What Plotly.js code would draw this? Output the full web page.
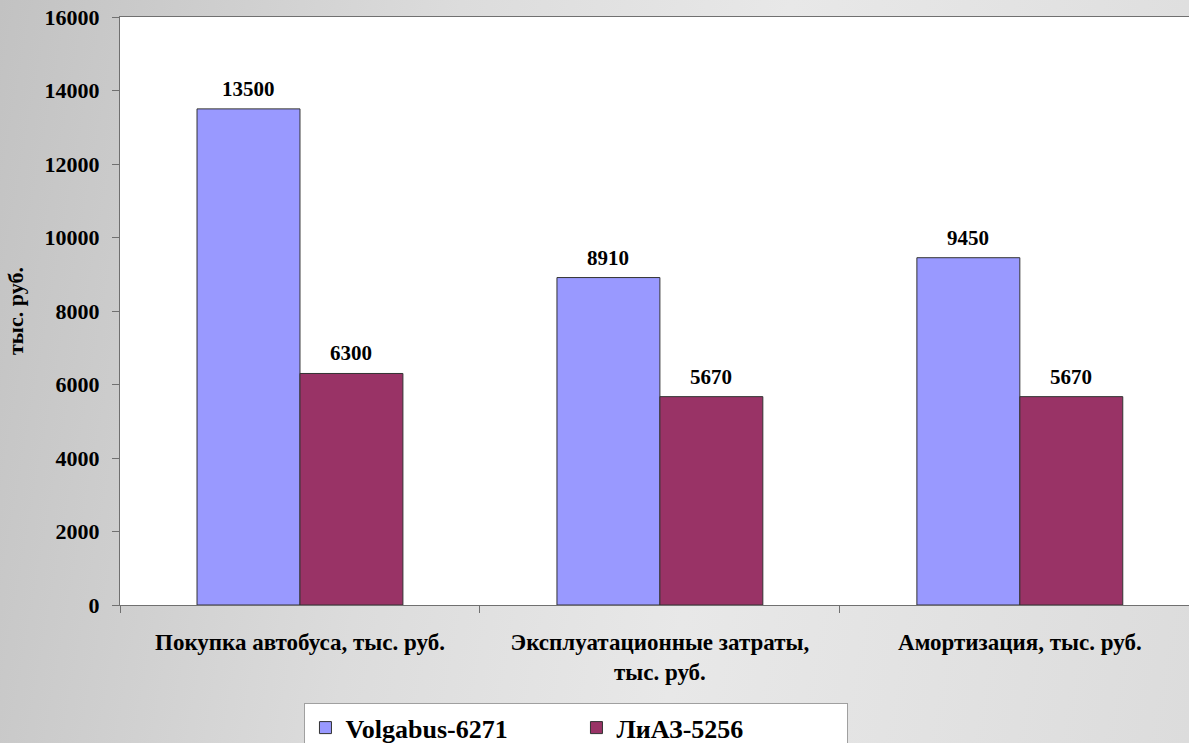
<!DOCTYPE html>
<html>
<head>
<meta charset="utf-8">
<script src="https://cdn.plot.ly/plotly-3.0.1.min.js"></script>
<style>
html,body{margin:0;padding:0;}
body{width:1189px;height:743px;overflow:hidden;background:linear-gradient(100deg,#c2c2c2 0%,#dcdcdc 35%,#e8e8e8 60%,#dcdcdc 100%);}
#chart{width:1189px;height:743px;}
</style>
</head>
<body>
<div id="chart"></div>
<script>
const categories = ["Покупка автобуса, тыс. руб.", "Эксплуатационные затраты,<br>тыс. руб.", "Амортизация, тыс. руб."];
const volgabus = [13500, 8910, 9450];
const liaz = [6300, 5670, 5670];
const seriesNames = ["Volgabus-6271", "ЛиАЗ-5256"];
const yTicks = [0, 2000, 4000, 6000, 8000, 10000, 12000, 14000, 16000];

const serif = "Liberation Serif";
const labelFont = {family: serif, size: 21, color: "#000", weight: "bold"};

const traces = [
  {type: "bar", name: seriesNames[0], x: categories, y: volgabus,
   marker: {color: "#9999FF", line: {color: "#333333", width: 1}}},
  {type: "bar", name: seriesNames[1], x: categories, y: liaz,
   marker: {color: "#993366", line: {color: "#333333", width: 1}}}
];

const annotations = [];
[volgabus, liaz].forEach((vals, si) => {
  vals.forEach((v, i) => {
    annotations.push({x: categories[i], y: v, text: String(v), showarrow: false,
      xref: "x", yref: "y", yanchor: "bottom", xshift: si === 0 ? -51.5 : 51.5, yshift: 6,
      font: labelFont});
  });
});

const layout = {
  width: 1189, height: 743,
  paper_bgcolor: "rgba(0,0,0,0)",
  plot_bgcolor: "#ffffff",
  margin: {l: 120, r: 0, t: 17, b: 138, autoexpand: false},
  barmode: "group",
  bargap: 0.428,
  bargroupgap: 0,
  font: {family: serif, color: "#000", weight: "bold"},
  annotations: annotations,
  xaxis: {
    type: "category",
    range: [-0.5, 2.47],
    showline: true, linecolor: "#707070", linewidth: 1, mirror: true,
    ticks: "outside", tickson: "boundaries", ticklen: 7, tickcolor: "#707070",
    tickfont: {family: serif, size: 23, color: "#000", weight: "bold"},
    ticklabelstandoff: 16,
    showgrid: false
  },
  yaxis: {
    range: [0, 16000],
    tickvals: yTicks,
    ticktext: yTicks.map(String),
    showline: true, linecolor: "#707070", linewidth: 1,
    ticks: "outside", ticklen: 7, tickcolor: "#707070",
    tickfont: {family: serif, size: 22, color: "#000", weight: "bold"},
    ticklabelstandoff: 8,
    showgrid: false, zeroline: false,
    title: {text: "тыс. руб.", font: {family: serif, size: 22, color: "#000", weight: "bold"}, standoff: 14}
  },
  showlegend: true,
  legend: {
    orientation: "h",
    x: 0.427, xanchor: "center",
    y: -0.167, yanchor: "top",
    bgcolor: "#ffffff", bordercolor: "#a0a0a0", borderwidth: 1,
    font: {family: serif, size: 26, color: "#000", weight: "bold"},
    itemwidth: 30, entrywidth: 226
  }
};

Plotly.newPlot("chart", traces, layout, {displayModeBar: false, staticPlot: true});
</script>
</body>
</html>
